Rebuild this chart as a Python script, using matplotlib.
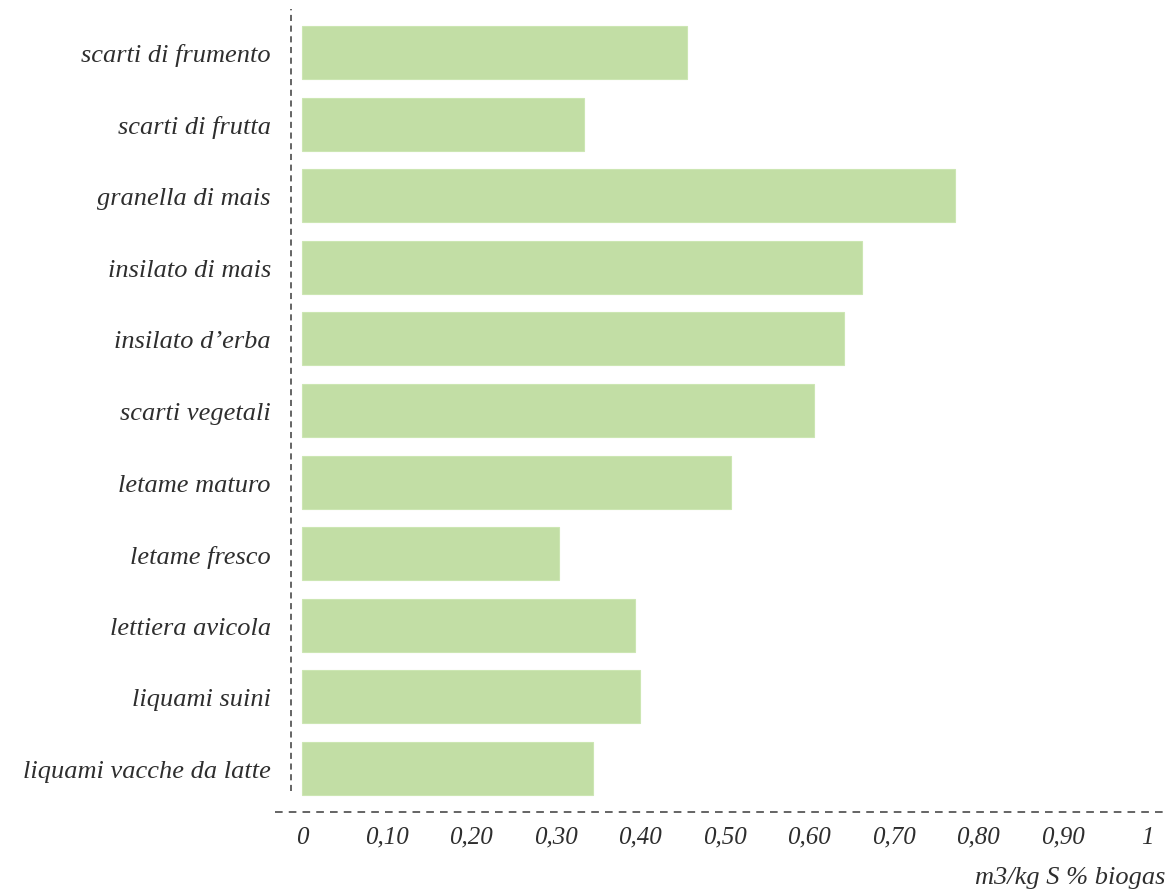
import matplotlib
matplotlib.use("Agg")
import matplotlib.pyplot as plt

categories = ["scarti di frumento", "scarti di frutta", "granella di mais",
              "insilato di mais", "insilato d\u2019erba", "scarti vegetali",
              "letame maturo", "letame fresco", "lettiera avicola",
              "liquami suini", "liquami vacche da latte"]
values = [0.455, 0.334, 0.772, 0.663, 0.641, 0.606, 0.508, 0.304, 0.394, 0.400, 0.344]
xticks = [0, 0.1, 0.2, 0.3, 0.4, 0.5, 0.6, 0.7, 0.8, 0.9, 1.0]
xticklabels = ["0", "0,10", "0,20", "0,30", "0,40", "0,50", "0,60", "0,70", "0,80", "0,90", "1"]
xlabel = "m3/kg S % biogas"

W, H = 1174, 895
fig = plt.figure(figsize=(W / 100, H / 100), dpi=100)
ax = fig.add_axes([291 / W, (H - 813) / H, 874 / W, 803 / H])

font = dict(family="Liberation Serif", style="italic")
txt_color = "#2e2e2e"

ypos = list(range(len(categories)))
ax.barh(ypos, values, height=0.74, color="#c2dea5", edgecolor="#cce6b3", linewidth=0.8)

ax.set_xlim(-0.013, 1.021)
ax.set_ylim(10.607, -0.607)

for s in ax.spines.values():
    s.set_visible(False)

ax.set_yticks(ypos)
ax.set_yticklabels(categories, fontsize=19, color=txt_color, **font)
ax.tick_params(axis="y", length=0, pad=14.5)
ax.set_xticks(xticks)
ax.set_xticklabels(xticklabels, fontsize=18, color=txt_color, **font)
ax.tick_params(axis="x", length=0, pad=10)

ax.plot([0, 0], [(813 - 792) / 803, 1], transform=ax.transAxes, clip_on=False,
        color="#3a3a3a", lw=1.1, linestyle=(0, (4, 3)))
ax.plot([(275 - 291) / 874, 1], [0, 0], transform=ax.transAxes, clip_on=False,
        color="#3a3a3a", lw=1.1, linestyle=(0, (5, 4)))

fig.text(1165 / W, 1 - 878 / H, xlabel, ha="right", va="center", fontsize=19,
         color=txt_color, **font)

fig.savefig("out.png", dpi=100, facecolor="white")
